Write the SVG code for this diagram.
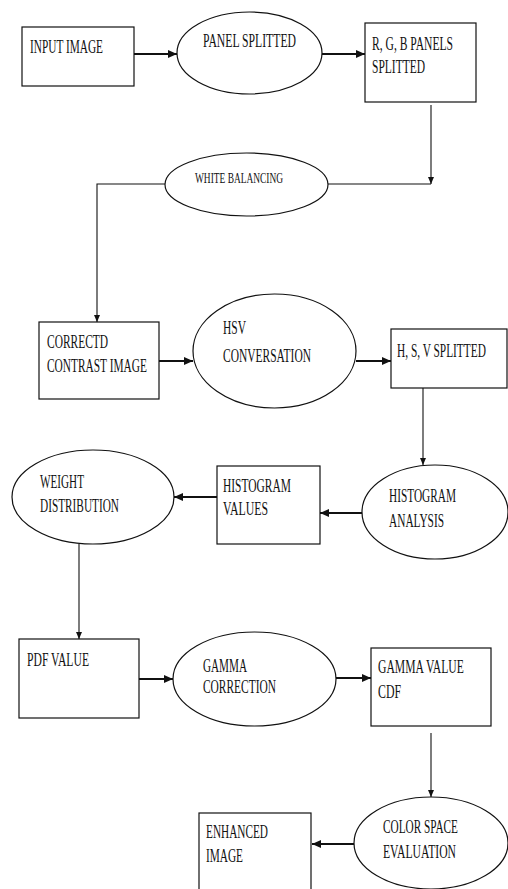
<svg xmlns="http://www.w3.org/2000/svg" width="508" height="889" viewBox="0 0 508 889">
<style>
.n{fill:#fff;stroke:#111;stroke-width:1.2}
.t{font-family:"Liberation Serif","Times New Roman",serif;font-size:18px;fill:#111}
.s{font-size:14px}
.c{fill:none;stroke:#111}
.h{stroke-width:2}
.v{stroke-width:1.1}
</style>
<defs>
<marker id="ah" markerUnits="userSpaceOnUse" markerWidth="10" markerHeight="10" refX="9" refY="5" orient="auto"><path d="M0,1 L9,5 L0,9 Z" fill="#111"/></marker>
<marker id="av" markerUnits="userSpaceOnUse" markerWidth="8" markerHeight="8" refX="7" refY="4" orient="auto"><path d="M0,1 L7,4 L0,7 Z" fill="#111"/></marker>
</defs>
<rect width="508" height="889" fill="#fff"/>
<g id="connectors">
<line class="c h" x1="134" y1="54" x2="177" y2="54" marker-end="url(#ah)"/>
<line class="c h" x1="322" y1="54" x2="365" y2="54" marker-end="url(#ah)"/>
<line class="c v" x1="431" y1="105" x2="431" y2="184" marker-end="url(#av)"/>
<line class="c v" x1="431" y1="184" x2="328" y2="184"/>
<polyline class="c v" points="165,184 97,184 97,322" marker-end="url(#av)"/>
<line class="c h" x1="159" y1="361" x2="193" y2="361" marker-end="url(#ah)"/>
<line class="c h" x1="356" y1="361" x2="391" y2="361" marker-end="url(#ah)"/>
<line class="c v" x1="423" y1="388" x2="423" y2="465" marker-end="url(#av)"/>
<line class="c h" x1="362" y1="513" x2="320" y2="513" marker-end="url(#ah)"/>
<line class="c h" x1="217" y1="497" x2="174" y2="497" marker-end="url(#ah)"/>
<line class="c v" x1="79" y1="544" x2="79" y2="639" marker-end="url(#av)"/>
<line class="c h" x1="139" y1="679" x2="173" y2="679" marker-end="url(#ah)"/>
<line class="c h" x1="336" y1="678" x2="371" y2="678" marker-end="url(#ah)"/>
<line class="c v" x1="431" y1="733" x2="431" y2="797" marker-end="url(#av)"/>
<line class="c h" x1="354" y1="844" x2="312" y2="844" marker-end="url(#ah)"/>
</g>
<g id="input-image">
<rect class="n" x="22" y="27" width="112" height="59"/>
<text class="t" x="30" y="53" textLength="73" lengthAdjust="spacingAndGlyphs">INPUT IMAGE</text>
</g>
<g id="panel-splitted">
<ellipse class="n" cx="249.5" cy="53" rx="72.5" ry="41"/>
<text class="t" x="203" y="47" textLength="93" lengthAdjust="spacingAndGlyphs">PANEL SPLITTED</text>
</g>
<g id="rgb-panels">
<rect class="n" x="365" y="23" width="111" height="79"/>
<text class="t" x="372" y="50" textLength="81" lengthAdjust="spacingAndGlyphs">R, G, B PANELS</text>
<text class="t" x="372" y="73" textLength="53" lengthAdjust="spacingAndGlyphs">SPLITTED</text>
</g>
<g id="white-balancing">
<ellipse class="n" cx="246.5" cy="184.5" rx="81.5" ry="31.5"/>
<text class="t s" x="195" y="183" textLength="88" lengthAdjust="spacingAndGlyphs">WHITE BALANCING</text>
</g>
<g id="corrected-contrast">
<rect class="n" x="39" y="322" width="120" height="77"/>
<text class="t" x="47" y="348" textLength="61" lengthAdjust="spacingAndGlyphs">CORRECTD</text>
<text class="t" x="47" y="372" textLength="100" lengthAdjust="spacingAndGlyphs">CONTRAST IMAGE</text>
</g>
<g id="hsv-conversation">
<ellipse class="n" cx="274.5" cy="351" rx="81.5" ry="57"/>
<text class="t" x="223" y="334" textLength="23" lengthAdjust="spacingAndGlyphs">HSV</text>
<text class="t" x="223" y="362" textLength="88" lengthAdjust="spacingAndGlyphs">CONVERSATION</text>
</g>
<g id="hsv-splitted">
<rect class="n" x="391" y="329" width="116" height="59"/>
<text class="t" transform="translate(397 357) scale(0.7 1)" x="0" y="0" textLength="127" lengthAdjust="spacingAndGlyphs">H, S, V SPLITTED</text>
</g>
<g id="histogram-analysis">
<ellipse class="n" cx="435" cy="512" rx="73" ry="47"/>
<text class="t" x="389" y="502" textLength="67" lengthAdjust="spacingAndGlyphs">HISTOGRAM</text>
<text class="t" x="389" y="527" textLength="55" lengthAdjust="spacingAndGlyphs">ANALYSIS</text>
</g>
<g id="histogram-values">
<rect class="n" x="217" y="466" width="103" height="78"/>
<text class="t" x="223" y="492" textLength="68" lengthAdjust="spacingAndGlyphs">HISTOGRAM</text>
<text class="t" x="223" y="515" textLength="45" lengthAdjust="spacingAndGlyphs">VALUES</text>
</g>
<g id="weight-distribution">
<ellipse class="n" cx="93" cy="497" rx="81" ry="47"/>
<text class="t" x="40" y="488" textLength="44" lengthAdjust="spacingAndGlyphs">WEIGHT</text>
<text class="t" x="40" y="512" textLength="79" lengthAdjust="spacingAndGlyphs">DISTRIBUTION</text>
</g>
<g id="pdf-value">
<rect class="n" x="19" y="639" width="120" height="79"/>
<text class="t" x="27" y="666" textLength="62" lengthAdjust="spacingAndGlyphs">PDF VALUE</text>
</g>
<g id="gamma-correction">
<ellipse class="n" cx="254.5" cy="679" rx="81.5" ry="47"/>
<text class="t" x="203" y="672" textLength="44" lengthAdjust="spacingAndGlyphs">GAMMA</text>
<text class="t" x="203" y="693" textLength="73" lengthAdjust="spacingAndGlyphs">CORRECTION</text>
</g>
<g id="gamma-value-cdf">
<rect class="n" x="371" y="648" width="120" height="78"/>
<text class="t" transform="translate(378 673) scale(0.65 1)" x="0" y="0" textLength="132" lengthAdjust="spacingAndGlyphs">GAMMA VALUE</text>
<text class="t" x="378" y="698" textLength="23" lengthAdjust="spacingAndGlyphs">CDF</text>
</g>
<g id="color-space-evaluation">
<ellipse class="n" cx="431" cy="843" rx="77" ry="46"/>
<text class="t" x="383" y="833" textLength="75" lengthAdjust="spacingAndGlyphs">COLOR SPACE</text>
<text class="t" x="383" y="858" textLength="73" lengthAdjust="spacingAndGlyphs">EVALUATION</text>
</g>
<g id="enhanced-image">
<rect class="n" x="199" y="813" width="112" height="80"/>
<text class="t" x="206" y="838" textLength="62" lengthAdjust="spacingAndGlyphs">ENHANCED</text>
<text class="t" x="206" y="862" textLength="37" lengthAdjust="spacingAndGlyphs">IMAGE</text>
</g>
</svg>
